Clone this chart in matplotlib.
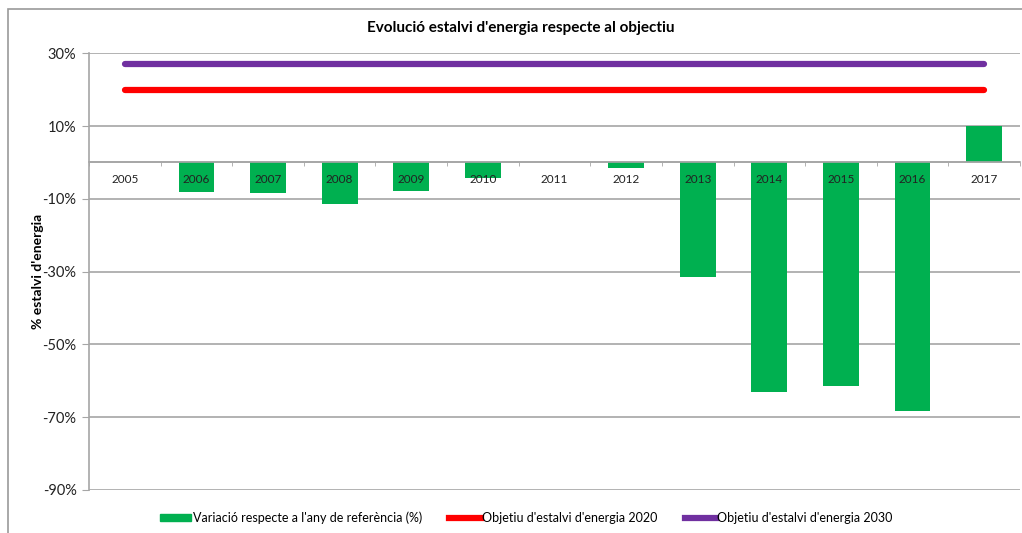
import numpy as np
import matplotlib.pyplot as plt
from matplotlib.patches import Rectangle
from matplotlib.lines import Line2D
from matplotlib.ticker import FuncFormatter

plt.rcParams['font.family'] = ['Lato', 'DejaVu Sans']

years = ['2005', '2006', '2007', '2008', '2009', '2010', '2011',
         '2012', '2013', '2014', '2015', '2016', '2017']
variacio = [0, -8.1, -8.4, -11.4, -7.9, -4.4, 0, -1.6, -31.4, -63.1, -61.3, -68.4, 10.0]
objectiu_2020 = [20] * len(years)
objectiu_2030 = [27] * len(years)
yticks = [30, 10, -10, -30, -50, -70, -90]

green = '#00b050'
red = '#ff0000'
purple = '#7030a0'
grid_c = '#a6a6a6'

fig = plt.figure(figsize=(10.22, 5.33), dpi=100)
# marc exterior del gràfic
fig.patches.append(Rectangle((8 / 1022, -0.05), 1.2, 1 - 9 / 533 + 0.05,
                             transform=fig.transFigure, fill=False,
                             edgecolor='#9a9a9a', lw=1.2))
ax = fig.add_axes([0.0871, 0.0807, 0.9109, 0.8193])

x = np.arange(len(years))
for t in yticks:
    ax.axhline(t, color=grid_c, lw=1.2, zorder=0.5)
ax.axhline(0, color=grid_c, lw=1.2, zorder=0.5)

ax.bar(x, variacio, width=0.5, color=green, zorder=1)
ax.plot(x, objectiu_2020, color=red, lw=4.5, solid_capstyle='round', zorder=2)
ax.plot(x, objectiu_2030, color=purple, lw=4.5, solid_capstyle='round', zorder=2)

ax.set_xlim(-0.5, len(years) - 0.5)
ax.set_ylim(-90, 30)

for s in ['top', 'right']:
    ax.spines[s].set_visible(False)
ax.spines['left'].set_color(grid_c)
ax.spines['left'].set_linewidth(1.2)
ax.spines['bottom'].set_position(('data', 0))
ax.spines['bottom'].set_color(grid_c)
ax.spines['bottom'].set_linewidth(1.2)

ax.set_yticks(yticks)
ax.yaxis.set_major_formatter(FuncFormatter(lambda v, p: '%d%%' % v))
ax.tick_params(axis='y', direction='out', length=5, color=grid_c,
               labelsize=10.5, labelcolor='#222222', pad=4)

ax.set_xticks(x)
ax.set_xticklabels(years)
ax.set_xticks(np.arange(len(years) + 1) - 0.5, minor=True)
ax.tick_params(axis='x', which='major', length=0, labelsize=8.5,
               labelcolor='#222222', pad=8)
ax.tick_params(axis='x', which='minor', direction='out', length=3, color=grid_c)

ax.set_ylabel("% estalvi d'energia", fontsize=10, fontweight='bold')
ax.yaxis.set_label_coords(-0.048, 0.5)
fig.text(0.51, 0.947, "Evolució estalvi d'energia respecte al objectiu",
         ha='center', va='center', fontsize=11, fontweight='bold')

handles = [Rectangle((0, 0), 1, 1, color=green),
           Line2D([], [], color=red, lw=4.5),
           Line2D([], [], color=purple, lw=4.5)]
labels = ["Variació respecte a l'any de referència (%)",
          "Objetiu d'estalvi d'energia 2020",
          "Objetiu d'estalvi d'energia 2030"]
leg = fig.legend(handles, labels, loc='center', bbox_to_anchor=(0.515, 0.028),
                 ncol=3, frameon=False, fontsize=9, handlelength=2.5,
                 handleheight=0.5, handletextpad=0.1, columnspacing=2.2)

fig.savefig('out.png', dpi=100)
